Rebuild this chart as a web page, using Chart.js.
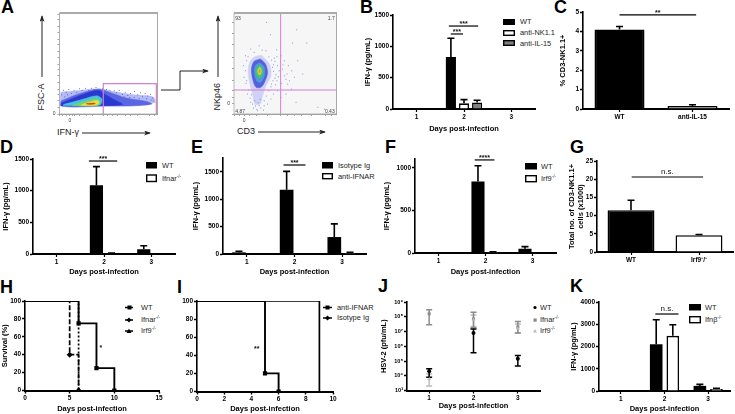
<!DOCTYPE html>
<html>
<head>
<meta charset="utf-8">
<script src="https://cdn.jsdelivr.net/npm/chart.js@4"></script>
<style>
html, body { margin: 0; background: #fff; overflow: hidden; }
#page { position: relative; width: 735px; height: 414px; overflow: hidden; background: #fff; filter: blur(0.3px); }
canvas { position: absolute; }
canvas.soft { filter: blur(0.6px); }
svg { position: absolute; left: 0; top: 0; }
.t { position: absolute; white-space: nowrap; line-height: 1; color: #222; font-family: "Liberation Sans"; }
.t sup { font-size: 62%; line-height: 0; vertical-align: 0.55em; }
</style>
</head>
<body>
<div id="page">
<svg width="735" height="414">
  <defs>
    <marker id="tip" viewBox="0 0 8 6" refX="7" refY="3" markerWidth="7" markerHeight="5" orient="auto">
      <path d="M0 0L8 3L0 6L2 3z" fill="#222"/>
    </marker>
  </defs>
  <!-- panel A arrows -->
  <path d="M42 77V16" stroke="#222" fill="none" marker-end="url(#tip)"/>
  <path d="M82 133H150" stroke="#222" fill="none" marker-end="url(#tip)"/>
  <path d="M218 77V16" stroke="#222" fill="none" marker-end="url(#tip)"/>
  <path d="M258 132H325" stroke="#222" fill="none" marker-end="url(#tip)"/>
  <path d="M161 90H180V71H208" stroke="#222" fill="none" marker-end="url(#tip)"/>

  <!-- legend swatches -->
  <rect x="503" y="19" width="12" height="6" fill="#000"/>
  <rect x="503.7" y="30.7" width="10.6" height="4.6" fill="#fff" stroke="#000" stroke-width="1.4"/>
  <rect x="503.7" y="40.7" width="10.6" height="4.6" fill="#808080" stroke="#000" stroke-width="1.4"/>
  <rect x="146" y="162" width="11" height="6.5" fill="#000"/>
  <rect x="146.7" y="175" width="9.6" height="6.5" fill="#fff" stroke="#000" stroke-width="1.4"/>
  <rect x="322" y="162" width="11" height="6.5" fill="#000"/>
  <rect x="322.7" y="173.7" width="9.6" height="5" fill="#fff" stroke="#000" stroke-width="1.4"/>
  <rect x="525" y="163" width="12" height="6.5" fill="#000"/>
  <rect x="525.7" y="175.7" width="10.6" height="6" fill="#fff" stroke="#000" stroke-width="1.4"/>
  <path d="M125 307.5H133M125 320H133M125 331H133" stroke="#000" stroke-width="1.5" fill="none"/>
  <rect x="127.5" y="305.5" width="4" height="4" fill="#000"/>
  <path d="M129 317.5L131.5 320L129 322.5L126.5 320z" fill="#000"/>
  <path d="M129 328.5L131.5 333H126.5z" fill="#000"/>
  <path d="M323 307.5H332M323 318H332" stroke="#000" stroke-width="1.5" fill="none"/>
  <rect x="325.5" y="305.5" width="4" height="4" fill="#000"/>
  <path d="M327.5 315.5L330 318L327.5 320.5L325 318z" fill="#000"/>
  <circle cx="535" cy="307.5" r="1.6" fill="#000"/>
  <rect x="533.5" y="318.5" width="3.2" height="3.2" fill="#888"/>
  <path d="M535 329L537 332.5H533z" fill="#bbb"/>
  <rect x="689" y="304" width="12" height="6.5" fill="#000"/>
  <rect x="689.7" y="316.7" width="10.6" height="6" fill="#fff" stroke="#000" stroke-width="1.4"/>
</svg>
</div>
<script>
// days on the x axis of the cytokine panels
const dayLabels = ['1', '2', '3'];
const ifnTicks = [0, 500, 1000, 1500];

// panel B
const bWT = [0, 830, 0];
const bWTErr = [0, 1130, 0];
const bNK = [0, 90, 0];
const bNKErr = [0, 150, 0];
const bIL15 = [0, 105, 0];
const bIL15Err = [0, 140, 0];

// panel C
const cLabels = ['WT', 'anti-IL-15'];
const cValues = [4.1, 0.15];
const cErr = [4.25, 0.22];
const cTicks = [0, 1, 2, 3, 4, 5];

// panel D
const dWT = [0, 1085, 75];
const dWTErr = [0, 1380, 130];
const dIfnar = [0, 10, 0];
const dIfnarErr = [0, 15, 0];

// panel E
const eIso = [30, 1175, 310];
const eIsoErr = [50, 1510, 550];
const eAnti = [5, 10, 20];
const eAntiErr = [0, 0, 30];

// panel F
const fWT = [0, 840, 50];
const fWTErr = [0, 1025, 75];
const fIrf9 = [0, 10, 0];
const fIrf9Err = [0, 15, 0];
const fTicks = [0, 500, 1000];

// panel G
const gLabels = ['WT', 'Irf9⁻/⁻'];
const gValues = [11.5, 4.6];
const gErr = [14.2, 4.8];
const gTicks = [0, 5, 10, 15, 20, 25];

// panel H, survival steps
const hWTDays = [0, 6, 6, 8, 8, 10, 10];
const hWTSurv = [100, 100, 75, 75, 25, 25, 0];
const hIfnarDays = [0, 5, 5, 6, 6];
const hIfnarSurv = [100, 100, 40, 40, 0];
const hIrf9Days = [0, 6, 6];
const hIrf9Surv = [100, 100, 0];
const survTicks = [0, 20, 40, 60, 80, 100];
const hDayTicks = [0, 5, 10, 15];

// panel I
const iAntiDays = [0, 5, 5, 6, 6];
const iAntiSurv = [100, 100, 20, 20, 0];
const iIsoDays = [0, 9, 9];
const iIsoSurv = [100, 100, 0];
const iDayTicks = [0, 2, 4, 6, 8, 10];

// panel J, HSV-2 titres
const jTickVals = [1e3, 1e4, 1e5, 1e6, 1e7, 1e8, 1e9];
const jTickLabels = ['10³', '10⁴', '10⁵', '10⁶', '10⁷', '10⁸', '10⁹'];
const jWT = [2e4, 8e6, 1.4e5];
const jWTHi = [3e4, 1.5e7, 2.4e5];
const jWTLo = [8e3, 3.6e5, 4.5e4];
const jIfnar = [1.6e8, 7e7, 2e7];
const jIfnarHi = [3e8, 2e8, 4.8e7];
const jIfnarLo = [2.9e7, 1.8e7, 8e6];
const jIrf9 = [6e3, 6e7, 1.6e7];
const jIrf9Hi = [1.3e4, 1.3e8, 3.2e7];
const jIrf9Lo = [2e3, 2.2e7, 8e6];

// panel K
const kWT = [0, 2100, 230];
const kWTErr = [0, 3200, 300];
const kIfnb = [0, 2480, 90];
const kIfnbErr = [0, 2980, 120];
const kTicks = [0, 1000, 2000, 3000, 4000];

// panel A, left dot plot: density contours on the acquisition channels
const a1Sparse = [[4,66],[52,70],[117,76],[162,68],[222,58],[272,54],[287,47],[284,34],[252,26],[202,24],[142,24],[4,24],[4,66]];
const a1Mid = [[5,40],[62,62],[117,75],[150,66],[202,48],[262,38],[278,30],[222,25],[122,24],[5,25],[5,40]];
const a1Blue = [[6,33],[62,56],[117,72],[136,60],[175,38],[190,29],[122,25],[6,25],[6,33]];
const a1Cyan = [[12,29],[62,42],[112,55],[128,45],[122,27],[12,26],[12,29]];
const a1Green = [[40,28],[75,38],[110,47],[122,38],[116,26],[40,26],[40,28]];
const a1Yellow = [[66,28],[92,36],[116,41],[118,31],[102,26],[66,26],[66,28]];
const a1Orange = [[80,31],[104,33],[108,31],[92,29],[80,31]];
const a1Dots = [[12,72],[20,66],[28,74],[36,62],[44,70],[52,66],[60,76],[68,72],[78,78],[88,72],[96,78],[104,74],[110,80],[130,76],[142,74],[152,72],[165,70],[172,64],[180,72],[190,60],[198,66],[206,56],[214,62],[226,68],[236,58],[244,64],[250,52],[258,62],[266,54],[274,60],[280,48],[284,40],[288,36],[276,42],[262,46],[240,46],[225,50],[212,50],[195,52],[6,58],[16,52],[24,58],[32,50]];
const a1Gate = [[132,0],[132,92],[292,92],[292,0]];
const a1TicksX = [0, 10, 20, 31, 38, 46, 60, 80, 100, 132, 145, 160, 175, 200, 215, 235, 270, 285];
const a1TicksY = [0, 20, 40, 60, 74, 95, 115, 135, 149, 170, 190, 210, 224, 245, 265, 285, 299];

// panel A, right dot plot
const a2Sparse = [[82,176],[106,150],[110,115],[94,82],[84,50],[78,30],[62,30],[56,56],[48,88],[42,128],[48,158],[62,172],[82,176]];
const a2Blue = [[79,165],[94,150],[100,123],[90,93],[80,80],[66,80],[56,103],[52,135],[60,158],[79,165]];
const a2Cyan = [[77,154],[90,141],[91,118],[80,95],[67,100],[60,128],[64,146],[77,154]];
const a2Green = [[77,148],[86,134],[85,118],[75,107],[67,118],[66,136],[77,148]];
const a2Yellow = [[77,141],[82,130],[79,119],[73,119],[71,132],[77,141]];
const a2Orange = [[76,134],[79,129],[76,123],[74,129],[76,134]];
const a2Dots = [[127,193],[109,238],[97,275],[187,253],[175,213],[217,213],[120,168],[140,175],[150,160],[162,145],[172,130],[180,110],[150,115],[135,130],[128,100],[142,92],[160,90],[172,75],[155,60],[130,70],[118,60],[110,45],[100,30],[88,12],[70,10],[55,30],[40,60],[30,110],[28,145],[34,175],[50,195],[75,205],[95,190],[115,140],[130,145],[145,135],[158,120],[165,100],[140,50],[185,35],[250,20],[270,15],[190,160],[205,120],[125,118],[112,90],[50,35],[62,40],[75,25],[90,25],[122,158],[128,172],[118,128],[132,112],[146,148],[155,104],[124,88],[68,14],[80,18],[58,18],[48,48],[36,92],[104,172],[112,162],[118,148],[38,160],[42,172],[60,185],[84,192],[34,130],[38,100],[44,72],[52,58],[90,40],[96,54],[104,70],[110,82],[116,100],[122,108],[72,34],[64,24],[78,44]];
const a2QuadV = [[139,0],[139,303]];
const a2QuadH = [[0,72],[304,72]];
const a2TicksX = [0, 15, 30, 45, 67, 100, 139, 160, 180, 202, 230, 272, 290];
const a2TicksY = [0, 31, 50, 72, 100, 138, 170, 208, 240, 275];

// quadrant percentages of the right dot plot, at their channel position
const a2Quads = [
  { text: '93', x: 4, y: 285, align: 'left' },
  { text: '1.7', x: 300, y: 285, align: 'right' },
  { text: '4.87', x: 4, y: 6, align: 'left' },
  { text: '0.43', x: 300, y: 6, align: 'right' }
];

// page text: x, baseline y, size, text, superscript, bold, rotated
const pageText = [
  [1, 13, 18, 'A', '', 1], [360, 13, 18, 'B', '', 1], [554, 13, 18, 'C', '', 1],
  [0, 153, 18, 'D', '', 1], [191, 153, 18, 'E', '', 1], [385, 153, 18, 'F', '', 1], [570, 153, 18, 'G', '', 1],
  [0, 293, 18, 'H', '', 1], [177, 293, 18, 'I', '', 1], [378, 292, 18, 'J', '', 1], [570, 292, 18, 'K', '', 1],
  [45, 111, 9, 'FSC-A', '', 0, 1], [57, 136, 9, 'IFN-γ'], [221, 111, 9, 'NKp46', '', 0, 1], [237, 135, 9, 'CD3'],
  [520, 24.5, 7.4, 'WT'], [520, 35.5, 7.4, 'anti-NK1.1'], [520, 46, 7.4, 'anti-IL-15'],
  [162, 168, 7.4, 'WT'], [162, 181, 7.4, 'Ifnar', '-/-'],
  [338, 168, 7.4, 'Isotype Ig'], [338, 179, 7.4, 'anti-IFNAR'],
  [541, 169, 7.4, 'WT'], [541, 181, 7.4, 'Irf9', '-/-'],
  [141, 310, 7.4, 'WT'], [141, 322.5, 7.4, 'Ifnar', '-/-'], [141, 333.5, 7.4, 'Irf9', '-/-'],
  [337, 310, 7.4, 'anti-IFNAR'], [337, 320.5, 7.4, 'Isotype Ig'],
  [540, 310, 7.4, 'WT'], [540, 322.5, 7.4, 'Ifnar', '-/-'], [540, 333.5, 7.4, 'Irf9', '-/-'],
  [705, 310, 7.4, 'WT'], [705, 322.5, 7.4, 'Ifnβ', '-/-']
];

Chart.defaults.font.family = 'Liberation Sans';
Chart.defaults.animation = false;
Chart.defaults.responsive = false;
Chart.defaults.plugins.legend.display = false;
Chart.defaults.plugins.tooltip.enabled = false;

const INK = '#000';
const PINK = '#d07fd8';
const page = document.getElementById('page');

pageText.forEach(([x, y, size, text, sup, bold, rotated]) => {
  const el = document.createElement('div');
  el.className = 't';
  el.textContent = text;
  if (sup) {
    const s = document.createElement('sup');
    s.textContent = sup;
    el.appendChild(s);
  }
  const ascent = 0.8465 * size;
  el.style.left = x + 'px';
  el.style.top = (y - ascent) + 'px';
  el.style.fontSize = size + 'px';
  if (bold) {
    el.style.fontWeight = 'bold';
    el.style.color = '#000';
  }
  if (rotated) {
    el.style.transformOrigin = '0 ' + ascent + 'px';
    el.style.transform = 'rotate(-90deg)';
  }
  page.appendChild(el);
});

// error bars drawn from the dataset's errHi / errLo values
const errorBars = {
  id: 'errorBars',
  beforeDatasetsDraw(chart) {
    const ctx = chart.ctx;
    const yScale = chart.scales.y;
    chart.data.datasets.forEach((ds, d) => {
      if (!ds.errHi) return;
      chart.getDatasetMeta(d).data.forEach((el, i) => {
        const hi = ds.errHi[i];
        if (!hi) return;
        const lo = ds.errLo ? ds.errLo[i] : ds.data[i];
        const top = yScale.getPixelForValue(hi);
        const bottom = yScale.getPixelForValue(lo);
        const cap = ds.capSize || 3.5;
        ctx.save();
        ctx.strokeStyle = ds.errColor || INK;
        ctx.lineWidth = ds.errWidth || 1.6;
        ctx.beginPath();
        ctx.moveTo(el.x, top);
        ctx.lineTo(el.x, bottom);
        ctx.moveTo(el.x - cap, top);
        ctx.lineTo(el.x + cap, top);
        if (ds.errLo) {
          ctx.moveTo(el.x - cap, bottom);
          ctx.lineTo(el.x + cap, bottom);
        }
        ctx.stroke();
        ctx.restore();
      });
    });
  }
};

// significance lines and their text, placed on the chart's own scales
const sigMarks = {
  id: 'sigMarks',
  afterDatasetsDraw(chart, args, opts) {
    const ctx = chart.ctx;
    (opts.items || []).forEach(m => {
      const x0 = chart.scales.x.getPixelForValue(m.from);
      const x1 = chart.scales.x.getPixelForValue(m.to);
      const y = chart.scales.y.getPixelForValue(m.y);
      ctx.save();
      if (m.to !== m.from) {
        ctx.strokeStyle = INK;
        ctx.lineWidth = 1.2;
        ctx.beginPath();
        ctx.moveTo(x0, y);
        ctx.lineTo(x1, y);
        ctx.stroke();
      }
      ctx.fillStyle = '#111';
      ctx.textAlign = 'center';
      ctx.textBaseline = 'bottom';
      ctx.font = m.text === 'n.s.' ? '8px "Liberation Sans"' : 'bold 7px "Liberation Sans"';
      ctx.fillText(m.text, (x0 + x1) / 2, m.text === 'n.s.' ? y - 1 : y + 1.5);
      ctx.restore();
    });
  }
};

// grey frame and background of the dot plots
const flowFrame = {
  id: 'flowFrame',
  beforeDatasetsDraw(chart, args, opts) {
    if (!opts.on) return;
    const ctx = chart.ctx;
    const a = chart.chartArea;
    ctx.save();
    ctx.fillStyle = opts.bg;
    ctx.fillRect(a.left, a.top, a.width, a.height);
    ctx.restore();
  },
  afterDatasetsDraw(chart, args, opts) {
    if (!opts.on) return;
    const ctx = chart.ctx;
    const a = chart.chartArea;
    ctx.save();
    ctx.strokeStyle = '#aaa';
    ctx.lineWidth = 0.8;
    ctx.beginPath();
    ctx.moveTo(a.left, a.top);
    ctx.lineTo(a.left, a.bottom);
    ctx.lineTo(a.right, a.bottom);
    ctx.stroke();
    ctx.fillStyle = '#aaa';
    ctx.fillRect(a.left, a.top - 1, a.width, 2);
    ctx.fillRect(a.right, a.top - 1, 1, a.height + 1);
    ctx.fillStyle = '#444';
    ctx.font = '5px "Liberation Sans"';
    ctx.textBaseline = 'middle';
    (opts.labels || []).forEach(q => {
      ctx.textAlign = q.align;
      ctx.fillText(q.text, chart.scales.x.getPixelForValue(q.x), chart.scales.y.getPixelForValue(q.y));
    });
    ctx.restore();
  }
};

Chart.register(errorBars, sigMarks, flowFrame);

// every panel gets its own canvas; the plot area is fixed through padding and afterFit
function panel(box, plot, config, cls) {
  const c = document.createElement('canvas');
  c.width = box[2] - box[0];
  c.height = box[3] - box[1];
  c.style.left = box[0] + 'px';
  c.style.top = box[1] + 'px';
  if (cls) c.className = cls;
  page.appendChild(c);
  const opts = config.options;
  opts.layout = {
    autoPadding: false,
    padding: { left: 0, bottom: 0, top: plot[1] - box[1], right: box[2] - plot[2] }
  };
  opts.scales.x.afterFit = s => { s.height = box[3] - plot[3]; };
  opts.scales.y.afterFit = s => { s.width = plot[0] - box[0]; };
  return new Chart(c, config);
}

function yAxis(min, max, tickList, title) {
  return {
    min: min, max: max,
    border: { color: INK, width: 1.6 },
    grid: { drawOnChartArea: false, color: INK, tickLength: 3, tickWidth: 1.4 },
    afterBuildTicks: s => { s.ticks = tickList.map(v => ({ value: v })); },
    ticks: { color: INK, padding: 1, font: { size: 6.5, weight: 'bold' }, callback: v => String(v) },
    title: { display: !!title, text: title, color: INK, padding: 0, font: { size: 7.5, weight: 'bold' } }
  };
}

function xCategory(title) {
  return {
    type: 'category',
    offset: true,
    border: { color: INK, width: 2 },
    grid: { offset: false, drawOnChartArea: false, color: INK, tickLength: 3, tickWidth: 1.2 },
    ticks: { color: INK, padding: 1, maxRotation: 0, autoSkip: false, font: { size: 6.5, weight: 'bold' } },
    title: { display: !!title, text: title, color: INK, padding: 0, font: { size: 7.5, weight: 'bold' } }
  };
}

function solid(data, err) {
  return { data: data, errHi: err, backgroundColor: INK, borderColor: INK, borderWidth: 0 };
}
function open(data, err, fill) {
  return { data: data, errHi: err, backgroundColor: fill || '#fff', borderColor: INK, borderWidth: 1.6 };
}

function barPanel(box, plot, labels, datasets, yMax, tickList, yTitle, xTitle, cp, bp, sig) {
  datasets.forEach(ds => { ds.categoryPercentage = cp; ds.barPercentage = bp; });
  panel(box, plot, {
    type: 'bar',
    data: { labels: labels, datasets: datasets },
    options: {
      scales: { x: xCategory(xTitle), y: yAxis(0, yMax, tickList, yTitle) },
      plugins: { sigMarks: { items: sig } }
    }
  });
}

const IFN_TITLE = 'IFN-γ (pg/mL)';
const DAYS_TITLE = 'Days post-infection';

barPanel([363, 8, 540, 133], [393, 15, 535, 109], dayLabels,
  [solid(bWT, bWTErr), open(bNK, bNKErr), open(bIL15, bIL15Err, '#808080')],
  1500, ifnTicks, IFN_TITLE, DAYS_TITLE, 0.83, 0.77,
  [{ from: 0.68, to: 1.3, y: 1324, text: '***' }, { from: 0.72, to: 0.98, y: 1197, text: '***' }]);

barPanel([558, 6, 733, 125], [583, 12, 729, 109], cLabels,
  [open(cValues, cErr, [INK, '#808080'])],
  5, cTicks, '% CD3-NK1.1+', '', 1, 0.685,
  [{ from: 0, to: 1.05, y: 4.85, text: '**' }]);

barPanel([1, 150, 178, 276], [33, 159, 175, 254], dayLabels,
  [solid(dWT, dWTErr), open(dIfnar, dIfnarErr)],
  1500, ifnTicks, IFN_TITLE, DAYS_TITLE, 0.64, 0.87,
  [{ from: 0.68, to: 1.28, y: 1468, text: '***' }]);

barPanel([191, 150, 370, 276], [223, 158, 366, 254], dayLabels,
  [solid(eIso, eIsoErr), open(eAnti, eAntiErr)],
  1755, ifnTicks, IFN_TITLE, DAYS_TITLE, 0.66, 0.87,
  [{ from: 0.77, to: 1.23, y: 1627, text: '***' }]);

barPanel([382, 150, 558, 276], [415, 159, 556, 253], dayLabels,
  [solid(fWT, fWTErr), open(fIrf9, fIrf9Err)],
  1105, fTicks, IFN_TITLE, DAYS_TITLE, 0.64, 0.87,
  [{ from: 0.77, to: 1.19, y: 1094, text: '****' }]);

barPanel([567, 155, 735, 268], [597, 161, 733, 252], gLabels,
  [open(gValues, gErr, [INK, '#fff'])],
  25, gTicks, ['Total no. of CD3-NK1.1+', 'cells (x1000)'], '', 1, 0.69,
  [{ from: 0.01, to: 1.06, y: 20.6, text: 'n.s.' }]);

barPanel([569, 295, 735, 413], [599, 302, 730, 391], dayLabels,
  [solid(kWT, kWTErr), open(kIfnb, kIfnbErr)],
  4000, kTicks, IFN_TITLE, DAYS_TITLE, 0.76, 0.76,
  [{ from: 0.79, to: 1.32, y: 3460, text: 'n.s.' }]);

// panels H and I
const pair = (xs, ys) => xs.map((x, i) => ({ x: x, y: ys[i] }));

function stepLine(days, surv, style, marks, dash, width) {
  return {
    data: pair(days, surv),
    showLine: true,
    borderColor: INK,
    borderWidth: width,
    borderDash: dash,
    pointStyle: style,
    pointRadius: marks,
    pointBackgroundColor: INK,
    pointBorderWidth: 0
  };
}

function survivalPanel(box, plot, xMax, xTicks, yTitle, datasets, sig) {
  const xAxis = yAxis(0, xMax, xTicks, DAYS_TITLE);
  xAxis.border.width = 2;
  panel(box, plot, {
    type: 'scatter',
    data: { datasets: datasets },
    options: {
      scales: { x: xAxis, y: yAxis(0, 100, survTicks, yTitle) },
      plugins: { sigMarks: { items: sig } }
    }
  });
}

survivalPanel([0, 295, 165, 413.5], [25, 301, 159, 391], 15, hDayTicks, 'Survival (%)', [
  stepLine(hWTDays, hWTSurv, 'rect', [0, 0, 3, 0, 3, 0, 3], [], 1.9),
  stepLine(hIfnarDays, hIfnarSurv, 'rectRot', [0, 0, 3, 0, 3], [5, 2], 1.7),
  stepLine(hIrf9Days, hIrf9Surv, 'triangle', [0, 0, 3], [2, 2], 1.7)
], [{ from: 8.5, to: 8.5, y: 45, text: '*' }]);

survivalPanel([175, 295, 340, 413.5], [197, 301, 333, 392], 10, iDayTicks, '', [
  stepLine(iAntiDays, iAntiSurv, 'rect', [0, 0, 3, 0, 3], [], 1.9),
  stepLine(iIsoDays, iIsoSurv, 'rectRot', [0, 0, 0], [], 1.7)
], [{ from: 4.4, to: 4.4, y: 45, text: '**' }]);

// panel J
function titre(data, hi, lo, style, color, size) {
  return {
    data: data, errHi: hi, errLo: lo, errColor: color, capSize: 3, errWidth: 1.5,
    showLine: false, pointStyle: style, pointRadius: size,
    pointBackgroundColor: color, pointBorderWidth: 0
  };
}

const jY = yAxis(1e3, 1e9, jTickVals, 'HSV-2 (pfu/mL)');
jY.type = 'logarithmic';
jY.ticks.font.size = 5.5;
jY.ticks.callback = v => jTickLabels[jTickVals.indexOf(v)];
const jX = xCategory(DAYS_TITLE);
panel([379, 295, 545, 410.5], [407, 302, 540, 391], {
  type: 'line',
  data: {
    labels: dayLabels,
    datasets: [
      titre(jIrf9, jIrf9Hi, jIrf9Lo, 'triangle', '#bdbdbd', 2.2),
      titre(jIfnar, jIfnarHi, jIfnarLo, 'rect', '#8c8c8c', 2.2),
      titre(jWT, jWTHi, jWTLo, 'circle', INK, 2)
    ]
  },
  options: { scales: { x: jX, y: jY } }
});

// panel A
function contour(points, color) {
  return {
    data: points.map(p => ({ x: p[0], y: p[1] })),
    showLine: true, fill: 'shape', tension: 0.3,
    backgroundColor: color, borderColor: color, borderWidth: 0.5, pointRadius: 0
  };
}
function dots(points, color) {
  return {
    data: points.map(p => ({ x: p[0], y: p[1] })),
    showLine: false, pointRadius: 0.5, pointBorderWidth: 0, pointBackgroundColor: color
  };
}
function gateLine(points, width) {
  return {
    data: points.map(p => ({ x: p[0], y: p[1] })),
    showLine: true, borderColor: PINK, backgroundColor: PINK, borderWidth: width, pointRadius: 0
  };
}
function flowAxis(max, ticks, zero) {
  return {
    type: 'linear', min: 0, max: max,
    border: { color: '#999', width: 1 },
    grid: { drawOnChartArea: false, color: '#666', tickLength: 2, tickWidth: 0.6 },
    afterBuildTicks: s => { s.ticks = ticks.map(v => ({ value: v })); },
    ticks: {
      autoSkip: false, maxRotation: 0, padding: 2, color: '#444', font: { size: 5 },
      callback: v => (v === zero ? '0' : '')
    }
  };
}

panel([40, 8, 160, 127], [59.5, 12, 157, 114], {
  type: 'scatter',
  data: {
    datasets: [
      gateLine(a1Gate, 1.2),
      contour(a1Orange, '#d8401c'),
      contour(a1Yellow, '#e9df44'),
      contour(a1Green, '#74d468'),
      contour(a1Cyan, '#48bfe4'),
      contour(a1Blue, '#2a38d0'),
      contour(a1Mid, '#5a66e2'),
      dots(a1Dots, '#3c46d8'),
      contour(a1Sparse, '#b4baf3')
    ]
  },
  options: {
    scales: { x: flowAxis(294, a1TicksX, 31), y: flowAxis(305, a1TicksY, 0) },
    plugins: { flowFrame: { on: true, bg: '#fff' } }
  }
}, 'soft');

panel([215, 8, 340, 127], [234, 13, 336, 114], {
  type: 'scatter',
  data: {
    datasets: [
      gateLine(a2QuadV, 1),
      gateLine(a2QuadH, 1),
      contour(a2Orange, '#d8a02a'),
      contour(a2Yellow, '#c4d84a'),
      contour(a2Green, '#4dc070'),
      contour(a2Cyan, '#4a9adc'),
      contour(a2Blue, '#5560dc'),
      dots(a2Dots, '#6a74e0'),
      contour(a2Sparse, '#cfd2f6')
    ]
  },
  options: {
    scales: { x: flowAxis(304, a2TicksX, 30), y: flowAxis(303, a2TicksY, 31) },
    plugins: { flowFrame: { on: true, bg: '#f6f6f6', labels: a2Quads } }
  }
}, 'soft');
</script>
</body>
</html>
